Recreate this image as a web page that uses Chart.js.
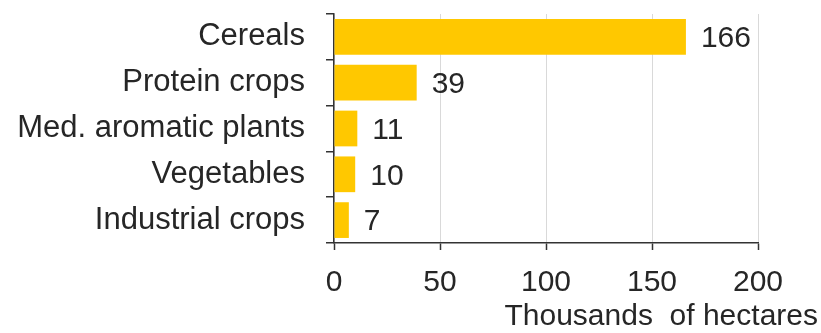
<!DOCTYPE html>
<html>
<head>
<meta charset="utf-8">
<script src="https://cdn.jsdelivr.net/npm/chart.js@4/dist/chart.umd.min.js"></script>
<style>
  html, body { margin: 0; padding: 0; background: #fff; }
</style>
</head>
<body>
<canvas id="chart" width="821" height="333"></canvas>
<script>
const categories = ["Cereals", "Protein crops", "Med. aromatic plants", "Vegetables", "Industrial crops"];
const hectares = [166, 39, 11, 10, 7];
const xTicks = [0, 50, 100, 150, 200];
const axisTitle = "Thousands  of hectares";

const textColor = "#262626";
const fontFamily = "'Liberation Sans', Arial, sans-serif";
const fontSize = 30;

// numbers at the end of each bar
const valueLabels = {
  id: "valueLabels",
  afterDatasetsDraw(chart) {
    const ctx = chart.ctx;
    const meta = chart.getDatasetMeta(0);
    ctx.save();
    ctx.font = fontSize + "px " + fontFamily;
    ctx.fillStyle = textColor;
    ctx.textAlign = "left";
    ctx.textBaseline = "middle";
    meta.data.forEach((bar, i) => {
      ctx.fillText(String(hectares[i]), bar.x + 15, bar.y + 2);
    });
    ctx.restore();
  }
};

// axis title, right aligned near the canvas edge
const xTitle = {
  id: "xTitle",
  afterDraw(chart) {
    const ctx = chart.ctx;
    ctx.save();
    ctx.font = fontSize + "px " + fontFamily;
    ctx.fillStyle = textColor;
    ctx.textAlign = "right";
    ctx.textBaseline = "middle";
    ctx.fillText(axisTitle, 818, 317);
    ctx.restore();
  }
};

new Chart(document.getElementById("chart"), {
  type: "bar",
  data: {
    labels: categories,
    datasets: [{
      data: hectares,
      backgroundColor: "#FFC800",
      borderWidth: 0,
      categoryPercentage: 1,
      barPercentage: 0.78
    }]
  },
  options: {
    indexAxis: "y",
    responsive: false,
    animation: false,
    devicePixelRatio: 1,
    layout: { padding: { top: 14, right: 63, bottom: 0, left: 0 } },
    plugins: { legend: { display: false }, tooltip: { enabled: false } },
    scales: {
      x: {
        min: 0,
        max: 200,
        afterBuildTicks(scale) {
          scale.ticks = xTicks.map(v => ({ value: v }));
        },
        afterFit(scale) {
          scale.height = 90;
          scale.paddingLeft = 0;
          scale.paddingRight = 0;
        },
        grid: { color: "#d9d9d9", lineWidth: 1, tickColor: "#333", tickLength: 7, tickWidth: 1.5 },
        border: { color: "#333", width: 1.5 },
        ticks: { color: textColor, font: { size: fontSize, family: fontFamily }, padding: 15, maxRotation: 0 }
      },
      y: {
        afterFit(scale) {
          scale.width = 334;
          scale.paddingTop = 0;
          scale.paddingBottom = 0;
        },
        grid: { offset: true, drawOnChartArea: false, color: "#333", tickLength: 8, lineWidth: 1.5 },
        border: { color: "#333", width: 1.5 },
        ticks: { color: textColor, font: { size: 31, family: fontFamily }, padding: 21 }
      }
    }
  },
  plugins: [valueLabels, xTitle]
});
</script>
</body>
</html>
